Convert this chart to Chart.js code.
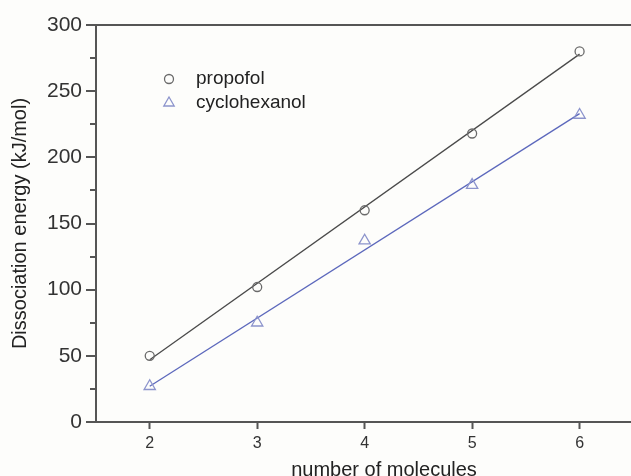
<!DOCTYPE html>
<html>
<head>
<meta charset="utf-8">
<script src="https://cdn.jsdelivr.net/npm/chart.js@4/dist/chart.umd.min.js"></script>
<style>
  html, body { margin: 0; padding: 0; overflow: hidden; background: #fdfdfb; }
  #wrap { width: 680px; height: 482px; }
</style>
</head>
<body>
<div id="wrap"><canvas id="c" width="680" height="482"></canvas></div>
<script>
// ---- data ----
const molecules = [2, 3, 4, 5, 6];
const propofol = [50, 102, 160, 218, 280];
const cyclohexanol = [27, 75, 137, 179, 232];
const fitX = [2, 6];
const propofolFit = [47, 278];
const cyclohexanolFit = [27, 233];
const seriesNames = ['propofol', 'cyclohexanol'];
const yMinorTicks = [25, 75, 125, 175, 225, 275];
const axisTitles = { x: 'number of molecules', y: 'Dissociation energy (kJ/mol)' };

const axisColor = '#555555';
const blackMark = '#6a6a6a';
const blackLine = '#4a4a4a';
const blueMark = '#8c94cc';
const blueLine = '#5c68bc';
const font = "'Liberation Sans', Arial, sans-serif";

const toXY = (xs, ys) => xs.map((x, i) => ({ x, y: ys[i] }));

const extras = {
  id: 'extras',
  afterDraw(chart) {
    const ctx = chart.ctx, ys = chart.scales.y, area = chart.chartArea;
    ctx.save();
    ctx.strokeStyle = axisColor;
    ctx.lineWidth = 2;
    yMinorTicks.forEach(v => {
      const py = Math.round(ys.getPixelForValue(v));
      ctx.beginPath();
      ctx.moveTo(area.left - 6, py);
      ctx.lineTo(area.left, py);
      ctx.stroke();
    });
    // in-plot legend
    const items = chart.data.datasets.filter(d => d.inLegend);
    items.forEach((d, i) => {
      const cx = area.left + 73;
      const cy = area.top + 54 + i * 24;
      ctx.strokeStyle = d.borderColor;
      ctx.fillStyle = 'rgba(0,0,0,0)';
      ctx.lineWidth = 1.3;
      const opts = { pointStyle: d.pointStyle, radius: d.pointStyle === 'triangle' ? 6 : 4.5, rotation: 0, borderWidth: 1.3 };
      if (Chart.helpers && Chart.helpers.drawPoint) {
        Chart.helpers.drawPoint(ctx, opts, cx, cy);
      }
      ctx.fillStyle = '#222222';
      ctx.font = '19px ' + font;
      ctx.textAlign = 'left';
      ctx.textBaseline = 'middle';
      ctx.fillText(d.label, area.left + 100, cy);
    });
    ctx.restore();
  }
};

new Chart(document.getElementById('c'), {
  type: 'scatter',
  data: {
    datasets: [
      { label: seriesNames[0] + ' fit', data: toXY(fitX, propofolFit), showLine: true,
        borderColor: blackLine, borderWidth: 1.3, pointRadius: 0, order: 2 },
      { label: seriesNames[1] + ' fit', data: toXY(fitX, cyclohexanolFit), showLine: true,
        borderColor: blueLine, borderWidth: 1.3, pointRadius: 0, order: 2 },
      { label: seriesNames[0], data: toXY(molecules, propofol), inLegend: true,
        pointStyle: 'circle', pointRadius: 4.5, borderColor: blackMark, backgroundColor: 'rgba(0,0,0,0)',
        borderWidth: 1.3, showLine: false, order: 1 },
      { label: seriesNames[1], data: toXY(molecules, cyclohexanol), inLegend: true,
        pointStyle: 'triangle', pointRadius: 6.5, borderColor: blueMark, backgroundColor: 'rgba(0,0,0,0)',
        borderWidth: 1.3, showLine: false, order: 1 }
    ]
  },
  options: {
    responsive: false,
    animation: false,
    events: [],
    layout: { padding: { top: 25, right: 8, left: 0, bottom: 0 } },
    plugins: { legend: { display: false }, tooltip: { enabled: false } },
    scales: {
      x: {
        type: 'linear', min: 1.5, max: 6.86,
        ticks: { stepSize: 1, includeBounds: false, color: '#333', font: { family: font, size: 16 }, padding: 5 },
        grid: { drawOnChartArea: false, drawTicks: true, tickLength: 7, tickColor: axisColor, tickWidth: 2 },
        border: { display: true, color: axisColor, width: 2 },
        title: { display: true, text: axisTitles.x, color: '#222', font: { family: font, size: 20 }, padding: { top: 4, bottom: 0 } },
        afterFit(s) { s.height = 60; }
      },
      y: {
        type: 'linear', min: 0, max: 300,
        ticks: { stepSize: 50, color: '#333', font: { family: font, size: 21 }, padding: 4 },
        grid: {
          drawOnChartArea: true, drawTicks: true, tickLength: 10, tickWidth: 2, tickColor: axisColor,
          lineWidth: 2,
          color: c => (c.tick && c.tick.value === 300) ? axisColor : 'rgba(0,0,0,0)'
        },
        border: { display: true, color: axisColor, width: 2 },
        title: { display: true, text: axisTitles.y, color: '#222', font: { family: font, size: 20 }, padding: { top: 8, bottom: 4 } },
        afterFit(s) { s.width = 96; }
      }
    }
  },
  plugins: [extras]
});
</script>
</body>
</html>
